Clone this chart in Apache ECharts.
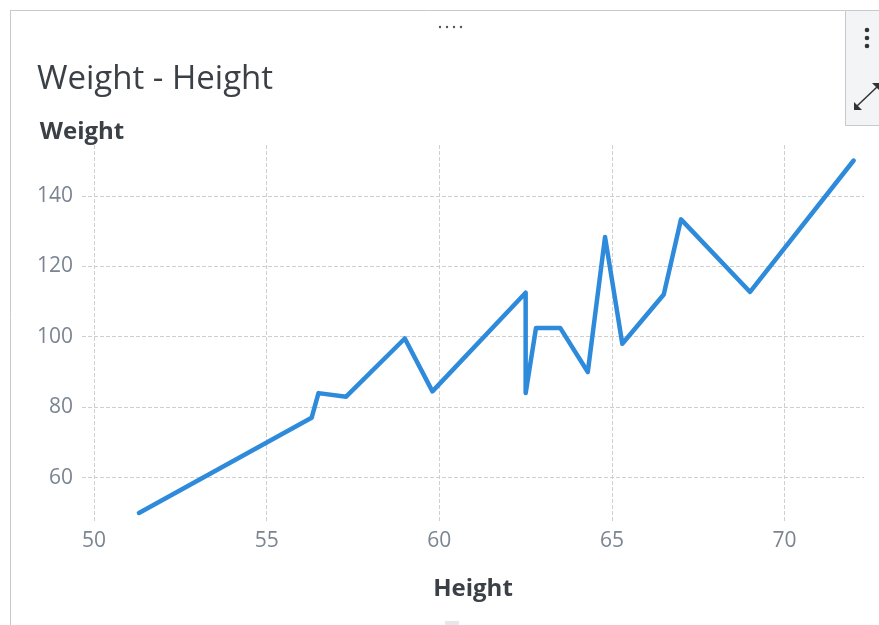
<!DOCTYPE html>
<html>
<head>
<meta charset="utf-8">
<script src="https://cdn.jsdelivr.net/npm/echarts@6/dist/echarts.min.js"></script>
<style>
html,body{margin:0;padding:0;background:#fff;}
#chart{width:879px;height:625px;}
</style>
</head>
<body>
<div id="chart"></div>
<script>
// ---- data ----
const chartTitle = 'Weight - Height';
const xName = 'Height';
const yName = 'Weight';
const heights = [51.3, 56.3, 56.5, 57.3, 59.0, 59.8, 62.5, 62.5, 62.8, 63.5, 64.3, 64.8, 65.3, 66.5, 67.0, 69.0, 72.0];
const weights = [50, 77, 84, 83, 99.5, 84.5, 112.5, 84, 102.5, 102.5, 90, 128.3, 98, 112, 133.3, 112.7, 150];
const xTicks = [50, 55, 60, 65, 70];
const yTicks = [60, 80, 100, 120, 140];

const points = heights.map((h, i) => [h, weights[i]]);

const chart = echarts.init(document.getElementById('chart'));
const font = '"Open Sans", "Noto Sans", sans-serif';
const border = '#c6cacf';

chart.setOption({
  animation: false,
  backgroundColor: '#ffffff',
  textStyle: { fontFamily: font },
  title: {
    text: chartTitle,
    left: 32,
    top: 58,
    textStyle: { fontFamily: font, fontSize: 33, fontWeight: 'normal', color: '#3b4046' }
  },
  grid: { left: 82, right: 15, top: 145, bottom: 102, containLabel: false },
  xAxis: {
    type: 'value',
    min: 49.65,
    max: 72.3,
    name: xName,
    nameLocation: 'middle',
    nameGap: 54,
    nameTextStyle: { fontFamily: font, fontSize: 24, fontWeight: 'bold', color: '#3b4046' },
    axisLine: { show: false },
    axisTick: { show: false, customValues: xTicks },
    axisLabel: { customValues: xTicks, margin: 8, fontFamily: font, fontSize: 21, color: '#7a8591' },
    splitLine: { show: true, lineStyle: { type: 'dashed', color: '#cfcfcf', width: 1 } }
  },
  yAxis: {
    type: 'value',
    min: 47.15,
    max: 154.4,
    name: yName,
    nameLocation: 'end',
    nameGap: 1,
    nameTextStyle: { fontFamily: font, fontSize: 24, fontWeight: 'bold', color: '#3b4046', align: 'center' },
    axisLine: { show: false },
    axisTick: { show: false, customValues: yTicks },
    axisLabel: { customValues: yTicks, margin: 9, fontFamily: font, fontSize: 21, color: '#7a8591' },
    splitLine: { show: true, lineStyle: { type: 'dashed', color: '#cfcfcf', width: 1 } }
  },
  series: [{
    type: 'line',
    data: points,
    showSymbol: false,
    symbol: 'none',
    lineStyle: { color: '#2e8adb', width: 4.5, cap: 'round', join: 'round' },
    itemStyle: { color: '#2e8adb' }
  }],
  graphic: [
    // panel frame
    { type: 'line', shape: { x1: 10, y1: 10.5, x2: 845, y2: 10.5 }, style: { stroke: border, lineWidth: 1 } },
    { type: 'line', shape: { x1: 10.5, y1: 10, x2: 10.5, y2: 625 }, style: { stroke: border, lineWidth: 1 } },
    // drag handle dots
    { type: 'circle', shape: { cx: 440, cy: 27, r: 1.2 }, style: { fill: '#555' } },
    { type: 'circle', shape: { cx: 447, cy: 27, r: 1.2 }, style: { fill: '#555' } },
    { type: 'circle', shape: { cx: 454, cy: 27, r: 1.2 }, style: { fill: '#555' } },
    { type: 'circle', shape: { cx: 461, cy: 27, r: 1.2 }, style: { fill: '#555' } },
    // toolbar
    { type: 'rect', shape: { x: 845.5, y: 10.5, width: 40, height: 115 }, style: { fill: '#f3f4f6', stroke: border, lineWidth: 1 } },
    { type: 'circle', shape: { cx: 867, cy: 30, r: 2.3 }, style: { fill: '#333' } },
    { type: 'circle', shape: { cx: 867, cy: 38, r: 2.3 }, style: { fill: '#333' } },
    { type: 'circle', shape: { cx: 867, cy: 46, r: 2.3 }, style: { fill: '#333' } },
    { type: 'line', shape: { x1: 857, y1: 106, x2: 877, y2: 87 }, style: { stroke: '#333', lineWidth: 1.5 } },
    { type: 'polygon', shape: { points: [[854, 110], [854, 102], [862, 110]] }, style: { fill: '#333' } },
    { type: 'polygon', shape: { points: [[879, 83], [872, 83], [879, 90]] }, style: { fill: '#333' } },
    // bottom handle stub
    { type: 'rect', shape: { x: 445, y: 621, width: 14, height: 4 }, style: { fill: '#e6e7e9' } }
  ]
});
</script>
</body>
</html>
